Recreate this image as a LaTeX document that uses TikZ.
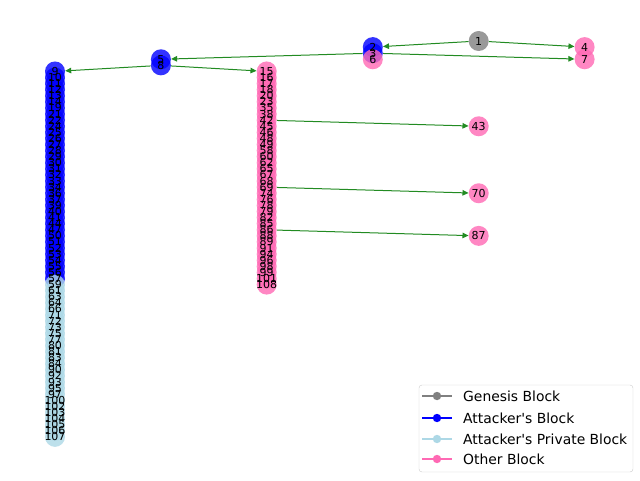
\documentclass[tikz,border=0pt]{standalone}
\usepackage{fontspec}
\setmainfont{DejaVu Sans}
\usetikzlibrary{arrows.meta}
\pgfdeclarelayer{bg}
\pgfdeclarelayer{fg}
\pgfsetlayers{bg,main,fg}
\definecolor{gblock}{RGB}{128,128,128}
\definecolor{ablock}{RGB}{0,0,255}
\definecolor{pblock}{RGB}{173,216,230}
\definecolor{oblock}{RGB}{255,105,180}
\definecolor{edgegreen}{RGB}{34,139,34}
\tikzset{
  blk/.style={circle, inner sep=0pt, minimum size=20pt, fill opacity=0.8, draw=none},
  genesis/.style={blk, fill=gblock},
  attacker/.style={blk, fill=ablock},
  private/.style={blk, fill=pblock},
  other/.style={blk, fill=oblock},
  lbl/.style={inner sep=0pt, font=\fontsize{11}{11}\selectfont, text=black},
  link/.style={draw=edgegreen, line width=1pt, -{Triangle[length=6pt,width=5.5pt]}},
  legline/.style={line width=1.5pt},
  legtext/.style={anchor=west, inner sep=0pt, font=\fontsize{13.9}{14}\selectfont},
}
\begin{document}
\begin{tikzpicture}[x=1pt,y=-1pt]
\useasboundingbox (0,0) rectangle (640,480);
\def\dy{6.09}
% top nodes
\node[genesis]  (n1) at (478.7,41) {};
\node[attacker] (n2) at (372.8,{41+1*\dy}) {};
\node[attacker] (n3) at (372.8,{41+2*\dy}) {};
\node[other]    (n4) at (584.6,{41+1*\dy}) {};
\node[attacker] (n5) at (160.9,{41+3*\dy}) {};
\node[other]    (n6) at (372.8,{41+3*\dy}) {};
\node[other]    (n7) at (584.6,{41+3*\dy}) {};
\node[attacker] (n8) at (160.9,{41+4*\dy}) {};
% attacker chain
\foreach \id [count=\i from 5] in {9,10,11,12,13,14,19,21,22,24,25,26,27,28,29,30,31,32,33,34,36,37,39,40,41,44,47,50,51,52,53,54,55,56,57}
  {\node[attacker] (n\id) at (55,{41+\i*\dy}) {};}
% private chain
\foreach \id [count=\i from 40] in {59,61,63,64,66,71,72,73,75,77,80,81,83,84,90,92,93,95,97,100,102,103,104,105,106,107}
  {\node[private] (n\id) at (55,{41+\i*\dy}) {};}
% other chain
\foreach \id [count=\i from 5] in {15,16,17,18,20,23,35,38,42,45,46,48,49,58,60,62,65,67,68,69,74,76,78,79,82,85,86,88,89,91,94,96,98,99,101,108}
  {\node[other] (n\id) at (266.7,{41+\i*\dy}) {};}
% branches
\node[other] (n43) at (478.7,{41+14*\dy}) {};
\node[other] (n70) at (478.7,{41+25*\dy}) {};
\node[other] (n87) at (478.7,{41+32*\dy}) {};
% labels
\begin{pgfonlayer}{fg}
\foreach \id in {1,...,108} {\node[lbl] (l\id) at (n\id) {\id};}
\end{pgfonlayer}
% edges
\begin{pgfonlayer}{bg}
\draw[link] (n1) -- (n2);
\draw[link] (n1) -- (n4);
\draw[link] (n3) -- (n5);
\draw[link] (n3) -- (n7);
\draw[link] (n8) -- (n9);
\draw[link] (n8) -- (n15);
\draw[link] (n42) -- (n43);
\draw[link] (n69) -- (n70);
\draw[link] (n86) -- (n87);
\end{pgfonlayer}
% legend
\node[draw=black!20, fill=white, fill opacity=0.8, rounded corners=3pt, minimum width=214pt, minimum height=87pt, inner sep=0pt] (legend) at (526,428.5) {};
\foreach \c/\yy/\nm/\txt in {gblock/396/lg/Genesis Block, ablock/418/la/Attacker\textquotesingle s Block, pblock/439/lp/Attacker\textquotesingle s Private Block, oblock/459/lo/Other Block} {
  \coordinate (\nm a) at (422,\yy);
  \coordinate (\nm b) at (452,\yy);
  \draw[\c, legline] (\nm a) -- (\nm b);
  \fill[\c] (437,\yy) circle (4.2pt);
  \node[legtext] (\nm t) at (463,\yy) {\txt};
}
\end{tikzpicture}
\end{document}
